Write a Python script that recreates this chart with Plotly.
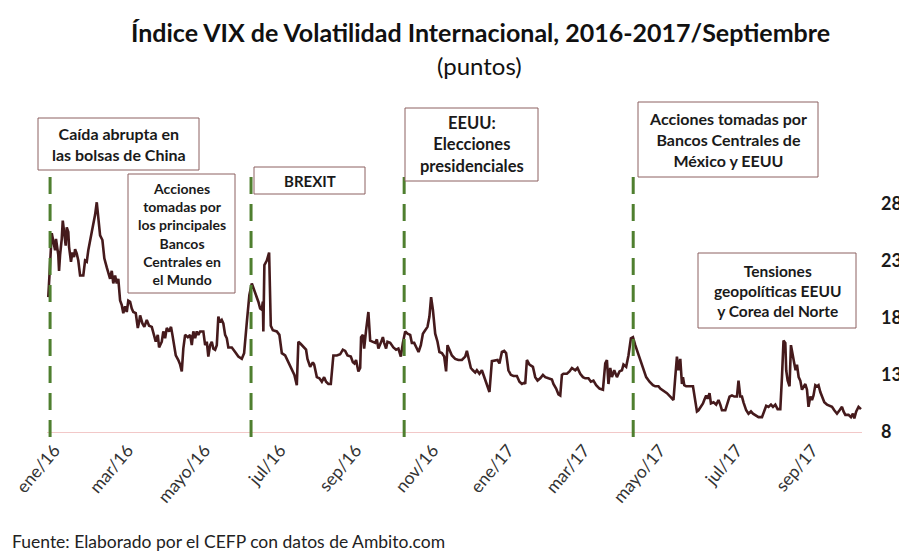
import plotly.graph_objects as go
import pandas as pd

# ---------------- data ----------------
inicio = pd.Timestamp("2016-01-04")

# days elapsed since 4-ene-2016
dias = [0.2, 2.9, 5.5, 6.2, 8.0, 8.6, 9.4, 10.7, 11.5, 12.7, 13.8, 14.6, 15.8, 16.4, 17.9, 19.0,
        20.3, 21.1, 22.4, 23.6, 25.0, 27.5, 28.9, 30.2, 31.4, 34.1, 36.7, 38.0, 39.2, 40.6, 42.4,
        43.9, 45.8, 47.0, 48.4, 49.7, 50.9, 52.3, 53.6, 54.8, 56.2, 57.5, 58.7, 60.1, 61.4, 62.6,
        64.0, 65.3, 66.5, 68.4, 70.0, 71.0, 71.8, 73.6, 75.1, 77.0, 78.8, 80.9, 82.9, 84.0, 85.6,
        86.6, 88.7, 89.9, 91.3, 92.6, 94.4, 95.9, 97.0, 98.5, 99.6, 101.6, 103.0, 104.3, 105.5,
        106.9, 109.0, 110.8, 112.1, 113.3, 114.7, 116.0, 117.2, 118.6, 121.1, 122.5, 123.8, 125.0,
        126.4, 127.7, 128.9, 130.3, 131.6, 132.8, 134.2, 135.5, 136.7, 138.1, 139.4, 140.6, 143.3,
        145.9, 148.4, 151.1, 152.9, 155.0, 157.0, 158.9, 160.7, 162.2, 164.0, 165.4, 166.7, 167.5,
        167.9, 168.7, 170.6, 172.4, 173.7, 175.3, 178.4, 180.4, 182.3, 184.9, 186.2, 187.4, 190.1,
        192.1, 194.0, 195.2, 197.1, 199.7, 201.2, 202.3, 204.4, 206.5, 207.5, 209.6, 211.6, 213.5,
        215.3, 216.8, 218.6, 220.5, 222.5, 225.2, 227.8, 229.9, 231.7, 233.5, 236.1, 237.7, 238.9,
        240.2, 242.0, 243.4, 244.1, 245.5, 246.5, 248.0, 249.8, 251.2, 253.7, 255.1, 256.4, 257.6,
        259.5, 261.1, 262.1, 263.6, 264.7, 266.8, 269.3, 271.4, 273.2, 275.1, 276.7, 278.5, 280.3,
        282.4, 283.7, 285.5, 287.6, 288.9, 290.7, 292.3, 294.1, 295.9, 297.4, 298.7, 300.1, 301.9,
        303.7, 305.2, 307.1, 308.9, 310.4, 311.5, 313.0, 314.9, 317.5, 320.0, 322.7, 325.3, 326.6,
        327.8, 329.7, 331.3, 333.1, 334.4, 336.4, 338.3, 340.1, 342.2, 344.2, 346.1, 348.7, 350.5,
        352.0, 353.9, 355.7, 357.2, 359.0, 360.9, 362.9, 365.6, 367.6, 369.5, 371.3, 372.1, 373.4,
        375.4, 378.1, 379.9, 381.7, 383.8, 385.9, 387.7, 390.2, 392.9, 394.1, 396.2, 398.0, 399.4,
        400.7, 401.9, 404.6, 406.6, 408.5, 411.1, 412.9, 415.0, 417.1, 418.9, 421.4, 423.3, 425.3,
        427.4, 430.0, 432.7, 434.5, 435.8, 437.0, 438.4, 439.7, 441.5, 443.6, 445.6, 447.5, 448.7,
        450.8, 452.6, 454.5, 456.1, 457.9, 459.7, 461.8, 463.9, 466.4, 469.0, 471.7, 473.5, 476.0,
        477.4, 480.0, 482.6, 485.2, 487.7, 489.1, 490.4, 491.6, 493.0, 494.3, 495.1, 496.1, 497.6,
        502.9, 504.7, 506.0, 507.2, 509.1, 510.7, 511.7, 513.2, 514.3, 515.8, 516.9, 518.9, 521.0,
        522.8, 524.2, 525.5, 528.1, 529.9, 531.4, 533.3, 535.1, 537.2, 538.4, 539.8, 541.1, 542.3,
        544.4, 546.2, 548.1, 549.7, 551.5, 554.0, 556.7, 558.5, 560.0, 561.8, 563.7, 565.3, 567.1,
        568.9, 571.0, 572.3, 573.5, 574.9, 575.6, 576.7, 578.2, 579.3, 580.6, 581.9, 582.9, 584.0,
        585.3, 586.6, 587.9, 589.1, 590.5, 591.8, 593.0, 594.4, 595.7, 596.9, 598.3, 599.6, 600.8,
        602.2, 603.5, 605.3, 607.4, 609.4, 611.3, 613.1, 615.2, 617.2, 619.1, 620.3, 621.7, 624.2,
        626.1, 627.6, 628.7, 630.2, 632.0, 633.9]

vix = [19.8, 25.4, 23.9, 24.9, 23.5, 22.1, 23.5, 24.9, 26.5, 25.5, 24.3, 25.9, 25.5, 24.2, 22.9, 23.7,
       23.3, 24.0, 23.6, 23.0, 21.7, 21.7, 23.0, 22.9, 23.9, 25.5, 27.0, 28.1, 26.5, 25.2, 24.8,
       23.2, 22.4, 22.0, 21.4, 22.1, 21.0, 21.7, 21.0, 21.4, 19.5, 19.1, 18.4, 19.0, 18.5, 19.5,
       19.4, 18.8, 18.5, 18.4, 17.1, 17.6, 18.2, 17.5, 17.2, 17.8, 17.3, 17.2, 16.5, 15.9, 16.5,
       15.4, 15.9, 16.8, 16.2, 17.1, 16.8, 17.2, 16.5, 15.4, 14.7, 14.3, 13.9, 13.3, 15.3,
       16.5, 16.3, 16.5, 15.6, 16.8, 16.2, 16.8, 16.5, 16.8, 16.8, 15.6, 15.9, 14.6,
       15.6, 15.9, 15.3, 15.2, 15.6, 18.1, 17.6, 17.8, 17.5, 16.5, 16.2, 15.4, 15.4,
       15.0, 14.6, 14.4, 14.9, 17.6, 20.0, 21.0, 20.4, 20.1, 19.4, 18.8, 18.7, 19.4,
       16.8, 22.6, 23.0, 23.7, 17.3, 16.9, 16.8, 16.5, 14.9, 14.7, 14.4, 14.1, 13.6,
       13.0, 12.1, 15.9, 15.7, 15.4, 15.2, 14.4, 13.7, 14.1, 13.9, 12.8, 12.7, 12.4,
       12.8, 12.4, 12.2, 12.2, 14.7, 14.7, 14.8, 15.2, 15.1, 14.7, 14.6, 14.1, 14.0,
       14.3, 13.3, 13.6, 16.3, 16.5, 15.3, 16.9, 18.5, 16.0, 15.9, 15.8, 16.1, 15.3,
       15.8, 16.3, 15.8, 15.3, 15.9, 15.8, 15.4, 15.2, 15.3, 14.6, 15.8, 16.8, 16.6,
       16.5, 15.8, 15.8, 15.3, 15.0, 15.6, 16.6, 16.9, 17.2, 18.1, 19.8, 18.7, 16.6,
       15.9, 15.0, 14.9, 14.6, 13.3, 15.6, 15.2, 14.7, 14.4, 14.3, 14.3, 14.6, 15.1,
       14.4, 13.6, 13.4, 13.2, 13.4, 13.1, 13.4, 12.8, 12.2, 11.5, 14.2, 14.3, 14.3,
       14.0, 15.0, 15.1, 14.9, 13.4, 13.0, 12.9, 12.9, 12.4, 12.2, 12.3, 12.2, 14.3,
       13.9, 13.7, 12.8, 12.5, 12.7, 13.0, 12.8, 12.7, 12.6, 12.2, 11.8, 11.3, 11.2,
       13.0, 13.1, 13.1, 13.3, 13.6, 13.4, 13.6, 13.1, 12.8, 12.7, 12.7, 12.4, 12.5,
       12.1, 11.8, 11.7, 14.0, 14.3, 12.2, 13.6, 12.8, 13.4, 12.8, 13.3, 13.4, 13.9,
       13.7, 14.7, 16.2, 16.3, 15.6, 15.0, 14.3, 13.6, 12.8, 12.4, 12.1, 12.0, 12.0,
       11.8, 11.6, 11.4, 11.1, 10.8, 12.8, 14.6, 13.4, 14.4, 12.2, 12.8, 12.1, 12.0,
       12.0, 10.5, 9.8, 9.9, 10.2, 10.5, 10.8, 11.2, 10.9, 11.4, 10.5, 10.6, 10.4,
       10.8, 10.4, 9.9, 9.9, 10.5, 11.1, 11.2, 11.1, 11.1, 12.5, 11.1, 11.1, 10.6,
       9.9, 9.6, 9.8, 9.6, 9.5, 9.3, 9.3, 9.8, 10.3, 10.2, 10.4, 10.2, 10.4,
       10.0, 10.0, 12.8, 16.0, 15.8, 13.4, 12.5, 12.0, 15.6, 14.6, 14.0, 13.4, 13.9,
       12.8, 12.5, 11.7, 12.0, 12.2, 11.7, 10.2, 11.1, 10.8, 11.2, 12.1, 12.0, 12.1,
       11.5, 11.1, 10.6, 10.4, 10.3, 10.2, 9.9, 9.6, 9.9, 10.2, 9.8, 9.5, 9.5,
       9.3, 9.6, 9.2, 9.8, 10.2, 10.0]

# event marker dates (days since start) and their texts
eventos_dias = [1.6, 158.3, 277.7, 456.3]
eventos_texto = [
    "Caída abrupta en<br>las bolsas de China",
    "Acciones<br>tomadas por<br>los principales<br>Bancos<br>Centrales en<br>el Mundo",
    "BREXIT",
    "EEUU:<br>Elecciones<br>presidenciales",
    "Acciones tomadas por<br>Bancos Centrales de<br>México y EEUU",
    "Tensiones<br>geopolíticas EEUU<br>y Corea del Norte",
]

# x tick labels (days since start) and texts
ticks_dias = [5, 62, 122, 181, 240, 300, 359, 418, 477, 537, 596]
ticks_texto = ["ene/16", "mar/16", "mayo/16", "jul/16", "sep/16", "nov/16",
               "ene/17", "mar/17", "mayo/17", "jul/17", "sep/17"]
y_ticks = [8, 13, 18, 23, 28]

titulo = "Índice VIX de Volatilidad Internacional, 2016-2017/Septiembre"
subtitulo = "(puntos)"
fuente = "Fuente: Elaborado por el CEFP con datos de Ambito.com"

# ---------------- figure ----------------
def to_date(d):
    return inicio + pd.Timedelta(days=d)

fechas = [to_date(d) for d in dias]

OFF = 8  # page body margin
W, H = 907 - OFF, 553 - OFF
PLOT_L, PLOT_R, PLOT_T, PLOT_B = 47, 862, 200, 432   # in window pixels
L = PLOT_L - OFF
R = W - (PLOT_R - OFF)
T = PLOT_T - OFF
B = H - (PLOT_B - OFF)
PW, PH = PLOT_R - PLOT_L, PLOT_B - PLOT_T


def pxx(p):
    return (p - PLOT_L) / PW


def pxy(p):
    return (PLOT_B - p) / PH


FONT = "Lato"
fig = go.Figure()
fig.add_trace(go.Scatter(x=fechas, y=vix, mode="lines",
                         line=dict(color="#451A1C", width=2.6),
                         hoverinfo="skip", showlegend=False))

shapes = []
tops = [170, 168, 172, 176]
for d, top in zip(eventos_dias, tops):
    shapes.append(dict(type="line", xref="x", yref="paper",
                       x0=to_date(d), x1=to_date(d), y0=pxy(437), y1=pxy(top),
                       line=dict(color="#4F7F2F", width=3, dash="17px,10px"),
                       layer="above"))

boxes = [(38, 118, 199, 170), (128, 174, 235, 293), (254, 167, 365, 194),
         (405, 108, 538, 181), (638, 102, 818, 177), (698, 253, 856, 328)]
sizes = [16, 14, 15, 16.5, 16, 15.5]
annotations = []
for (x0, y0, x1, y1), txt, fs in zip(boxes, eventos_texto, sizes):
    shapes.append(dict(type="rect", xref="paper", yref="paper",
                       x0=pxx(x0), x1=pxx(x1), y0=pxy(y1), y1=pxy(y0),
                       fillcolor="white", line=dict(color="#8C6060", width=1),
                       layer="above"))
    annotations.append(dict(xref="paper", yref="paper", x=pxx((x0 + x1) / 2),
                            y=pxy((y0 + y1) / 2), text=txt, showarrow=False,
                            xanchor="center", yanchor="middle", align="center",
                            font=dict(family=FONT, size=fs, color="#1A1A1A", weight="bold")))

annotations.append(dict(xref="paper", yref="paper", x=pxx(480), y=pxy(32), text=titulo,
                        showarrow=False, xanchor="center", yanchor="middle",
                        font=dict(family=FONT, size=25, color="#111111", weight="bold")))
annotations.append(dict(xref="paper", yref="paper", x=pxx(479), y=pxy(65), text=subtitulo,
                        showarrow=False, xanchor="center", yanchor="middle",
                        font=dict(family=FONT, size=24, color="#111111")))
annotations.append(dict(xref="paper", yref="paper", x=pxx(10), y=pxy(541), text=fuente,
                        showarrow=False, xanchor="left", yanchor="middle",
                        font=dict(family=FONT, size=17.5, color="#222222")))

fig.update_layout(
    width=W, height=H, autosize=False,
    margin=dict(l=L, r=R, t=T, b=B, pad=0, autoexpand=False),
    paper_bgcolor="white", plot_bgcolor="white",
    shapes=shapes, annotations=annotations,
    xaxis=dict(type="date", range=[to_date(-0.8), to_date(634.7)], automargin=False,
               tickvals=[to_date(d) for d in ticks_dias], ticktext=ticks_texto,
               tickangle=-50, showgrid=False, zeroline=False, ticklabeloverflow="allow",
               showline=True, linecolor="#F2C8C8", linewidth=1, ticks="",
               tickfont=dict(family=FONT, size=17.5, color="#333333")),
    yaxis=dict(side="right", range=[8, 28.3], tickvals=y_ticks, automargin=False,
               showgrid=False, zeroline=False, showline=False, ticks="",
               ticklabelstandoff=18,
               tickfont=dict(family=FONT, size=18, color="#1A1A1A", weight="bold")),
)

fig.write_html("out.html")
